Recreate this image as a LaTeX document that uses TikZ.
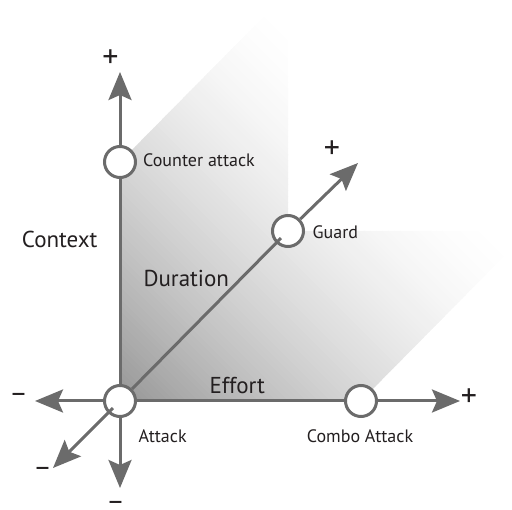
\documentclass[tikz,border=0pt]{standalone}
\usepackage{fontspec}
\setmainfont{PT Sans}
\usetikzlibrary{arrows.meta,calc}
\definecolor{axisgray}{HTML}{6B6B6B}
\definecolor{txt}{HTML}{231F20}
\pgfdeclarelayer{bg}
\pgfdeclarelayer{mid}
\pgfsetlayers{bg,mid,main}
\begin{document}
\begin{tikzpicture}[x=1pt,y=-1pt,
  axis/.style={draw=axisgray, line width=3pt},
  arr/.style={axis, -{Stealth[length=28pt,width=23pt,inset=5pt]}},
  dot/.style={circle, draw=axisgray, line width=3pt, fill=white, minimum size=31pt, inner sep=0pt},
  lab/.style={text=txt, font=\fontsize{18}{21}\selectfont, inner sep=0pt, anchor=base west},
  big/.style={text=txt, font=\fontsize{23}{27}\selectfont, inner sep=0pt, anchor=base west},
  plus/.style={text=txt, font=\fontsize{32}{36}\selectfont, inner sep=0pt, anchor=base},
  minus/.style={text=txt, font=\fontsize{28}{32}\selectfont, inner sep=0pt, anchor=base}
]
\useasboundingbox (0,0) rectangle (512,510);

% nodes
\node[dot] (att) at (120,401) {};
\node[dot] (ca) at (120,162) {};
\node[dot] (gu) at (288,231) {};
\node[dot] (co) at (361,401) {};
\coordinate (up) at (120,72);
\coordinate (rt) at (460,401);
\coordinate (lf) at (35,401);
\coordinate (dn) at (120,488);
\coordinate (dt) at (358,163);
\coordinate (dl) at (53,468);

% shaded planes
\begin{pgfonlayer}{bg}
  \begin{scope}
    \clip (0,0) rectangle (512,510);
    \clip (120,401) -- (120,162) -- (288,-8) -- (288,231) -- cycle
          (120,401) -- (361,401) -- (529,231) -- (288,231) -- cycle;
    \foreach \s in {0,3,...,300} {
      \pgfmathsetmacro\p{40.8*pow(max(0.0001,1-\s*0.0037),1.6)}
      \fill[black!\p] ({120+\s-500},{401-\s-500}) -- ({120+\s+500},{401-\s+500})
        -- ({123.6+\s+500},{397.4-\s+500}) -- ({123.6+\s-500},{397.4-\s-500}) -- cycle;
    }
  \end{scope}
\end{pgfonlayer}

% axes
\begin{pgfonlayer}{mid}
  \draw[arr] (att.center) -- (up);
  \draw[arr] (att.center) -- (rt);
  \draw[arr] (att.center) -- (lf);
  \draw[arr] (att.center) -- (dn);
  \draw[arr] (gu) -- (dt);
\end{pgfonlayer}
\draw[axis] (att.45) -- ($(gu.center)!10pt!(att.center)$);
\draw[arr] ($(att.center)!10pt!(dl)$) -- (dl);

% labels
\node[lab] (lca) at (143,167) {Counter attack};
\node[lab] (lgu) at (312.5,239) {Guard};
\node[lab] (lat) at (138.3,443) {Attack};
\node[lab] (lco) at (306.7,443) {Combo Attack};
\node[big] (lcx) at (21.7,248) {Context};
\node[big] (ldu) at (143.3,287) {Duration};
\node[big] (lef) at (209.3,394) {Effort};

\node[plus] (pu) at (110.5,68) {+};
\node[plus] (pd) at (332,159) {+};
\node[plus] (pr) at (469,407) {+};
\node[minus] (ml) at (18.5,403) {–};
\node[minus] (mdl) at (42.5,477) {–};
\node[minus] (md) at (115.5,511) {–};
\end{tikzpicture}
\end{document}
